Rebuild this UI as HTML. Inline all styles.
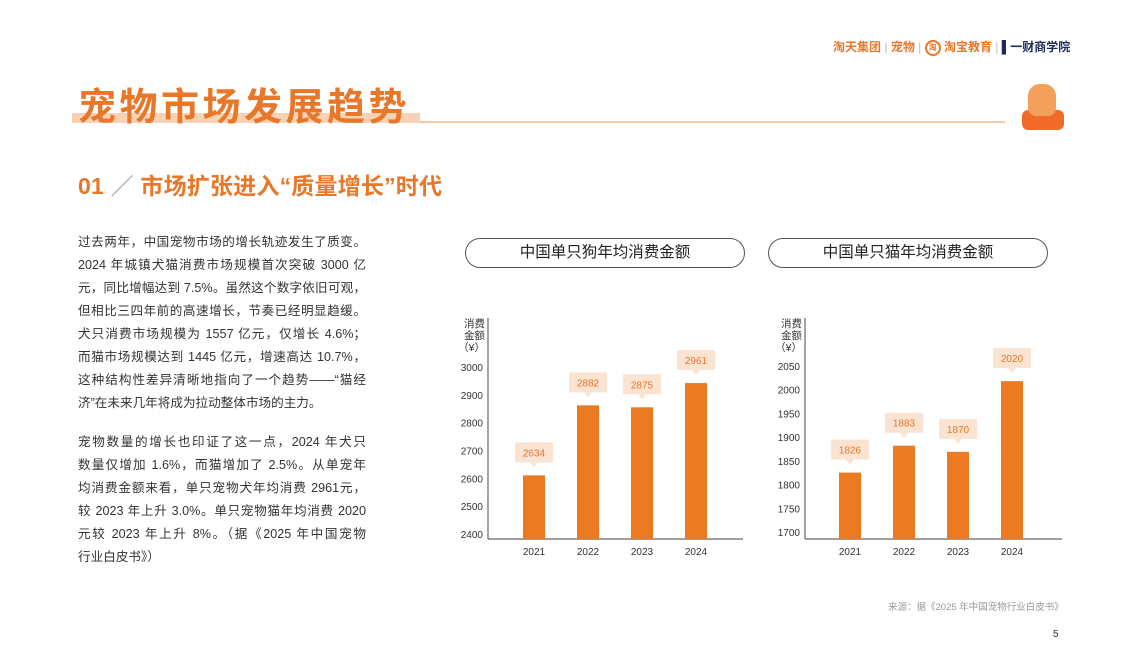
<!DOCTYPE html>
<html><head><meta charset="utf-8">
<style>
*{margin:0;padding:0;box-sizing:border-box}
body{width:1122px;height:669px;background:#fff;position:relative;overflow:hidden;font-family:"Liberation Sans","Noto Sans CJK SC",sans-serif;color:#333}
.abs{position:absolute}
.ln{position:absolute;left:78px;width:288px;font-size:12.6px;text-align:justify;text-align-last:justify;white-space:nowrap;color:#333;line-height:16px}
.pill{position:absolute;top:238px;height:30px;border:1.3px solid #555;border-radius:15px;font-size:15.5px;text-align:center;line-height:27px;color:#222}
</style></head><body>
<div class="abs" style="left:833px;top:38px;font-size:12px;font-weight:bold;color:#e8772a;white-space:nowrap">淘天集团<span style="color:#bbb;font-weight:normal"> | </span>宠物 <span style="color:#bbb;font-weight:normal">|</span> <span style="display:inline-block;width:16px;height:16px;border:2px solid #e8772a;border-radius:50%;font-size:8px;text-align:center;line-height:12px;vertical-align:middle">淘</span> 淘宝教育 <span style="color:#bbb;font-weight:normal">|</span> <span style="color:#1a2a5a">▌一财商学院</span></div>
<div class="abs" style="left:72px;top:113px;width:348px;height:10px;background:#f8d2b4"></div>
<div class="abs" style="left:420px;top:121px;width:585px;height:1.5px;background:#f3c8a6"></div>
<div class="abs" style="left:78px;top:76px;font-size:38px;font-weight:bold;color:#e8772a;letter-spacing:3.5px;white-space:nowrap">宠物市场发展趋势</div>
<div class="abs" style="left:1020px;top:80px;width:46px;height:54px">
<div class="abs" style="left:2px;top:30px;width:42px;height:20px;background:#f26a2a;border-radius:6px"></div>
<div class="abs" style="left:8px;top:4px;width:28px;height:32px;background:#f4a05a;border-radius:12px 12px 8px 8px"></div>
</div>
<div class="abs" style="left:78px;top:167px;font-size:23px;font-weight:bold;color:#e8772a;white-space:nowrap;letter-spacing:0.2px">01 <span style="font-weight:normal;color:#999">／</span> 市场扩张进入“质量增长”时代</div>
<div class="ln" style="top:234px">过去两年，中国宠物市场的增长轨迹发生了质变。</div>
<div class="ln" style="top:257px">2024 年城镇犬猫消费市场规模首次突破 3000 亿</div>
<div class="ln" style="top:280px">元，同比增幅达到 7.5%。虽然这个数字依旧可观，</div>
<div class="ln" style="top:303px">但相比三四年前的高速增长，节奏已经明显趋缓。</div>
<div class="ln" style="top:326px">犬只消费市场规模为 1557 亿元，仅增长 4.6%；</div>
<div class="ln" style="top:349px">而猫市场规模达到 1445 亿元，增速高达 10.7%，</div>
<div class="ln" style="top:372px">这种结构性差异清晰地指向了一个趋势——“猫经</div>
<div class="ln" style="top:395px;text-align-last:left;width:auto">济”在未来几年将成为拉动整体市场的主力。</div>
<div class="ln" style="top:434px">宠物数量的增长也印证了这一点，2024 年犬只</div>
<div class="ln" style="top:457px">数量仅增加 1.6%，而猫增加了 2.5%。从单宠年</div>
<div class="ln" style="top:480px">均消费金额来看，单只宠物犬年均消费 2961元，</div>
<div class="ln" style="top:503px">较 2023 年上升 3.0%。单只宠物猫年均消费 2020</div>
<div class="ln" style="top:526px">元较 2023 年上升 8%。（据《2025 年中国宠物</div>
<div class="ln" style="top:549px;text-align-last:left;width:auto">行业白皮书》）</div>
<div class="pill" style="left:465px;width:280px">中国单只狗年均消费金额</div>
<div class="pill" style="left:768px;width:280px">中国单只猫年均消费金额</div>
<svg class="abs" style="left:0;top:0" width="1122" height="669" id="charts"></svg>
<div class="abs" style="left:888px;top:599px;font-size:9.5px;color:#999;white-space:nowrap">来源：据《2025 年中国宠物行业白皮书》</div>
<div class="abs" style="left:1053px;top:629px;font-size:10px;color:#333">5</div>
<script>
const years=["2021","2022","2023","2024"];
const dogValues=[2634,2882,2875,2961];
const dogTicks=[2400,2500,2600,2700,2800,2900,3000];
const catValues=[1826,1883,1870,2020];
const catTicks=[1700,1750,1800,1850,1900,1950,2000,2050];
const NS="http://www.w3.org/2000/svg";
const svg=document.getElementById('charts');
function mk(t,a,p){const e=document.createElementNS(NS,t);for(const k in a)e.setAttribute(k,a[k]);(p||svg).appendChild(e);return e;}
function chart(cfg){
  const {x0,x1,yTop,yBot,min,max,vals,ticks,bx,key,tTop,tBot}=cfg;
  const y=v=>yBot-(v-min)/(max-min)*(yBot-yTop);
  const tMin=ticks[0],tMax=ticks[ticks.length-1];
  const ty=v=>tBot-(v-tMin)/(tMax-tMin)*(tBot-tTop);
  const g=mk('g',{});
  
  
  mk('line',{x1:x0,y1:318,x2:x0,y2:539,stroke:'#666','stroke-width':1.2},g);
  mk('line',{x1:x0,y1:539,x2:x1,y2:539,stroke:'#666','stroke-width':1.2},g);
  [['消费',327],['金额',339],['（¥）',351]].forEach(([t,yy])=>{const e=mk('text',{x:x0-3,y:yy,'font-size':10.5,fill:'#333','text-anchor':'end'},g);e.textContent=t;});
  ticks.forEach(t=>{const e=mk('text',{x:x0-5,y:ty(t)+4,'font-size':10,fill:'#333','text-anchor':'end'},g);e.textContent=t;
    
    });
  vals.forEach((v,i)=>{
    const cx=bx+i*54, top=y(v);
    const r=mk('rect',{x:cx-11,y:top,width:22,height:539-top,fill:'#ec7a22'},g);
    
    
    mk('rect',{x:cx-19,y:top-33,width:38,height:20,fill:'#fbe3d2',rx:1},g);
    mk('polygon',{points:`${cx-4},${top-13} ${cx+4},${top-13} ${cx},${top-8}`,fill:'#fbe3d2'},g);
    const lb=mk('text',{x:cx,y:top-19,'font-size':10,fill:'#e8772a','text-anchor':'middle'},g);lb.textContent=v;
    
    
    const xl=mk('text',{x:cx,y:555,'font-size':10,fill:'#333','text-anchor':'middle'},g);xl.textContent=years[i];
    
    
  });
}
chart({key:'dog',x0:488,x1:743,yTop:372,yBot:533,min:2430,max:3000,vals:dogValues,ticks:dogTicks,bx:534,tTop:367,tBot:534});
chart({key:'cat',x0:805,x1:1062,yTop:367,yBot:532,min:1700,max:2050,vals:catValues,ticks:catTicks,bx:850,tTop:366,tBot:532});
</script>
</body></html>
